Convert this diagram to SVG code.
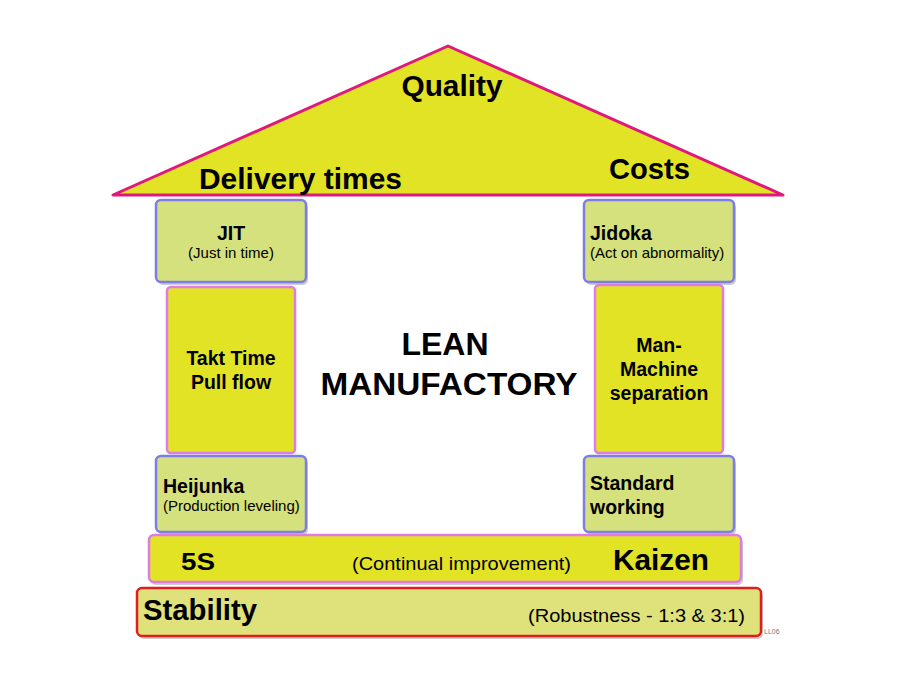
<svg xmlns="http://www.w3.org/2000/svg" width="900" height="675" viewBox="0 0 900 675">
<style>
.lt{fill:#d5e17c;stroke:#7d7de6;stroke-width:2.5}
.yl{fill:#e3e326;stroke:#e07ae6;stroke-width:2.5}
.sh{fill:#9a9a9a;opacity:0.5}
text{font-family:"Liberation Sans",Arial,sans-serif;fill:#000}
.b{font-weight:bold}
.bx{font-weight:bold;font-size:19.5px}
.sm{font-size:15px}
</style>
<rect width="900" height="675" fill="#fff"/>
<g id="roof">
<polygon points="448,46 113,195 783,195" fill="#e3e326" stroke="#e0187c" stroke-width="3" stroke-linejoin="round"/>
<text x="452" y="96" class="b" font-size="29" text-anchor="middle" textLength="101" lengthAdjust="spacingAndGlyphs">Quality</text>
<text x="199" y="189" class="b" font-size="30" textLength="203" lengthAdjust="spacingAndGlyphs">Delivery times</text>
<text x="609" y="179" class="b" font-size="30" textLength="81" lengthAdjust="spacingAndGlyphs">Costs</text>
</g>
<g id="jit">
<rect class="sh" x="158" y="203" width="150" height="82" rx="5"/>
<rect class="lt" x="156" y="200" width="150" height="82" rx="5"/>
<text x="231" y="240" class="bx" text-anchor="middle">JIT</text>
<text x="231" y="258" class="sm" text-anchor="middle">(Just in time)</text>
</g>
<g id="takt">
<rect class="yl" x="167" y="287" width="128" height="166" rx="4"/>
<text x="231" y="365" class="bx" text-anchor="middle">Takt Time</text>
<text x="231" y="389" class="bx" text-anchor="middle">Pull flow</text>
</g>
<g id="heijunka">
<rect class="sh" x="158" y="459" width="150" height="76" rx="5"/>
<rect class="lt" x="156" y="456" width="150" height="76" rx="5"/>
<text x="163" y="493" class="bx">Heijunka</text>
<text x="163" y="511" class="sm">(Production leveling)</text>
</g>
<g id="jidoka">
<rect class="sh" x="586" y="203" width="150" height="82" rx="5"/>
<rect class="lt" x="584" y="200" width="150" height="82" rx="5"/>
<text x="590" y="240" class="bx">Jidoka</text>
<text x="590" y="258" class="sm">(Act on abnormality)</text>
</g>
<g id="manmachine">
<rect class="yl" x="595" y="285" width="128" height="168" rx="4"/>
<text x="659" y="352" class="bx" text-anchor="middle">Man-</text>
<text x="659" y="376" class="bx" text-anchor="middle">Machine</text>
<text x="659" y="400" class="bx" text-anchor="middle">separation</text>
</g>
<g id="standard">
<rect class="sh" x="586" y="459" width="150" height="76" rx="5"/>
<rect class="lt" x="584" y="456" width="150" height="76" rx="5"/>
<text x="590" y="490" class="bx">Standard</text>
<text x="590" y="514" class="bx">working</text>
</g>
<g id="center">
<text x="445" y="355" class="b" font-size="32" text-anchor="middle">LEAN</text>
<text x="449" y="395" class="b" font-size="32" text-anchor="middle" textLength="257" lengthAdjust="spacingAndGlyphs">MANUFACTORY</text>
</g>
<g id="kaizen">
<rect class="sh" x="151" y="538" width="592" height="47" rx="5"/>
<rect class="yl" x="149" y="535" width="592" height="47" rx="5"/>
<text x="181" y="570" class="b" font-size="24" textLength="34" lengthAdjust="spacingAndGlyphs">5S</text>
<text x="352" y="570" font-size="19" textLength="219" lengthAdjust="spacingAndGlyphs">(Continual improvement)</text>
<text x="613" y="570" class="b" font-size="29" textLength="96" lengthAdjust="spacingAndGlyphs">Kaizen</text>
</g>
<g id="stability">
<rect class="sh" x="139" y="591" width="624" height="48" rx="5"/>
<rect x="137" y="588" width="624" height="48" rx="5" fill="#dfe27a" stroke="#e01e1e" stroke-width="2.5"/>
<text x="143" y="620" class="b" font-size="29" textLength="114" lengthAdjust="spacingAndGlyphs">Stability</text>
<text x="528" y="622" font-size="19" textLength="217" lengthAdjust="spacingAndGlyphs">(Robustness - 1:3 &amp; 3:1)</text>
</g>
<text x="764" y="634" font-size="7" style="fill:#777">LL06</text>
<g id="connectors"/>
</svg>
